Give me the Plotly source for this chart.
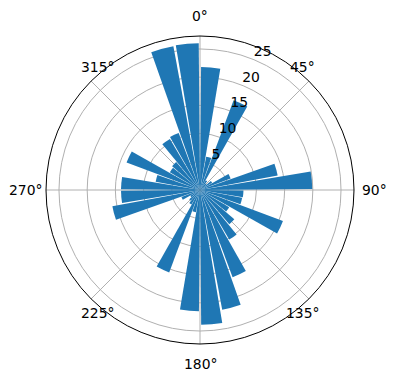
import math
import plotly.graph_objects as go

# Bin centres (compass degrees, clockwise from north) and bar lengths
directions = [5, 15, 25, 35, 45, 55, 65, 75, 85, 95, 105, 115,
              125, 135, 145, 155, 165, 175, 185, 195, 205, 215, 225, 235,
              245, 255, 265, 275, 285, 295, 305, 315, 325, 335, 345, 355]
counts = [21.8, 6.0, 17.0, 2.0, 1.5, 2.5, 5.8, 14.0, 19.9, 7.7, 7.6, 15.7,
          6.0, 8.0, 10.2, 16.5, 21.6, 23.9, 21.5, 4.0, 15.6, 3.0, 2.5, 2.0,
          3.5, 15.8, 14.0, 14.0, 8.0, 13.9, 6.2, 6.5, 10.5, 10.8, 25.9, 26.0]
bar_width = 9

angle_ticks = [0, 45, 90, 135, 180, 225, 270, 315]
angle_labels = ["0°", "45°", "90°", "135°", "180°", "225°", "270°", "315°"]
radial_ticks = [5, 10, 15, 20, 25]
radial_labels = ["5", "10", "15", "20", "25"]

R_MAX = 27.3
FONT = dict(family="DejaVu Sans", size=13.9, color="black")
W, H = 396, 380
ML, MR, MT, MB = 46, 42, 36, 36
PLOT_W = W - ML - MR  # square polar area

fig = go.Figure(go.Barpolar(
    theta=directions,
    r=counts,
    width=[bar_width] * len(directions),
    marker=dict(color="#1f77b4", line=dict(width=0)),
    hoverinfo="skip",
))

# radial tick labels along 24.5 deg, slightly outward of each ring
fig.add_trace(go.Scatterpolar(
    r=[t + 1.8 for t in radial_ticks], theta=[24.5] * len(radial_ticks),
    mode="text", text=radial_labels,
    textfont=FONT, cliponaxis=False, hoverinfo="skip", showlegend=False,
))

# angular tick labels outside the frame (matplotlib-like placement)
annotations = []
for a, txt in zip(angle_ticks, angle_labels):
    if a % 90 == 0:
        th, d = a, 174
    else:
        th = a + (-5.3 if a in (45, 225) else 5.3)
        d = 160
    x = 0.5 + d * math.sin(math.radians(th)) / PLOT_W
    y = 0.5 + d * math.cos(math.radians(th)) / PLOT_W
    annotations.append(dict(x=x, y=y, xref="paper", yref="paper", text=txt,
                            showarrow=False, xanchor="center", yanchor="middle",
                            font=FONT))

grid = "#b0b0b0"
fig.update_layout(
    width=W, height=H,
    margin=dict(l=ML, r=MR, t=MT, b=MB),
    paper_bgcolor="white",
    showlegend=False,
    font=FONT,
    annotations=annotations,
    polar=dict(
        bgcolor="white",
        domain=dict(x=[0, 1], y=[0, 1]),
        angularaxis=dict(
            rotation=90, direction="clockwise",
            tickmode="array", tickvals=angle_ticks, showticklabels=False,
            showline=True, linecolor="black", linewidth=1,
            showgrid=True, gridcolor=grid, gridwidth=0.8,
            ticks="", layer="above traces",
        ),
        radialaxis=dict(
            range=[0, R_MAX], angle=67.5,
            tickmode="array", tickvals=radial_ticks, showticklabels=False,
            showline=False, showgrid=True, gridcolor=grid, gridwidth=0.8,
            ticks="", layer="above traces",
        ),
    ),
)

fig.write_html("out.html")
